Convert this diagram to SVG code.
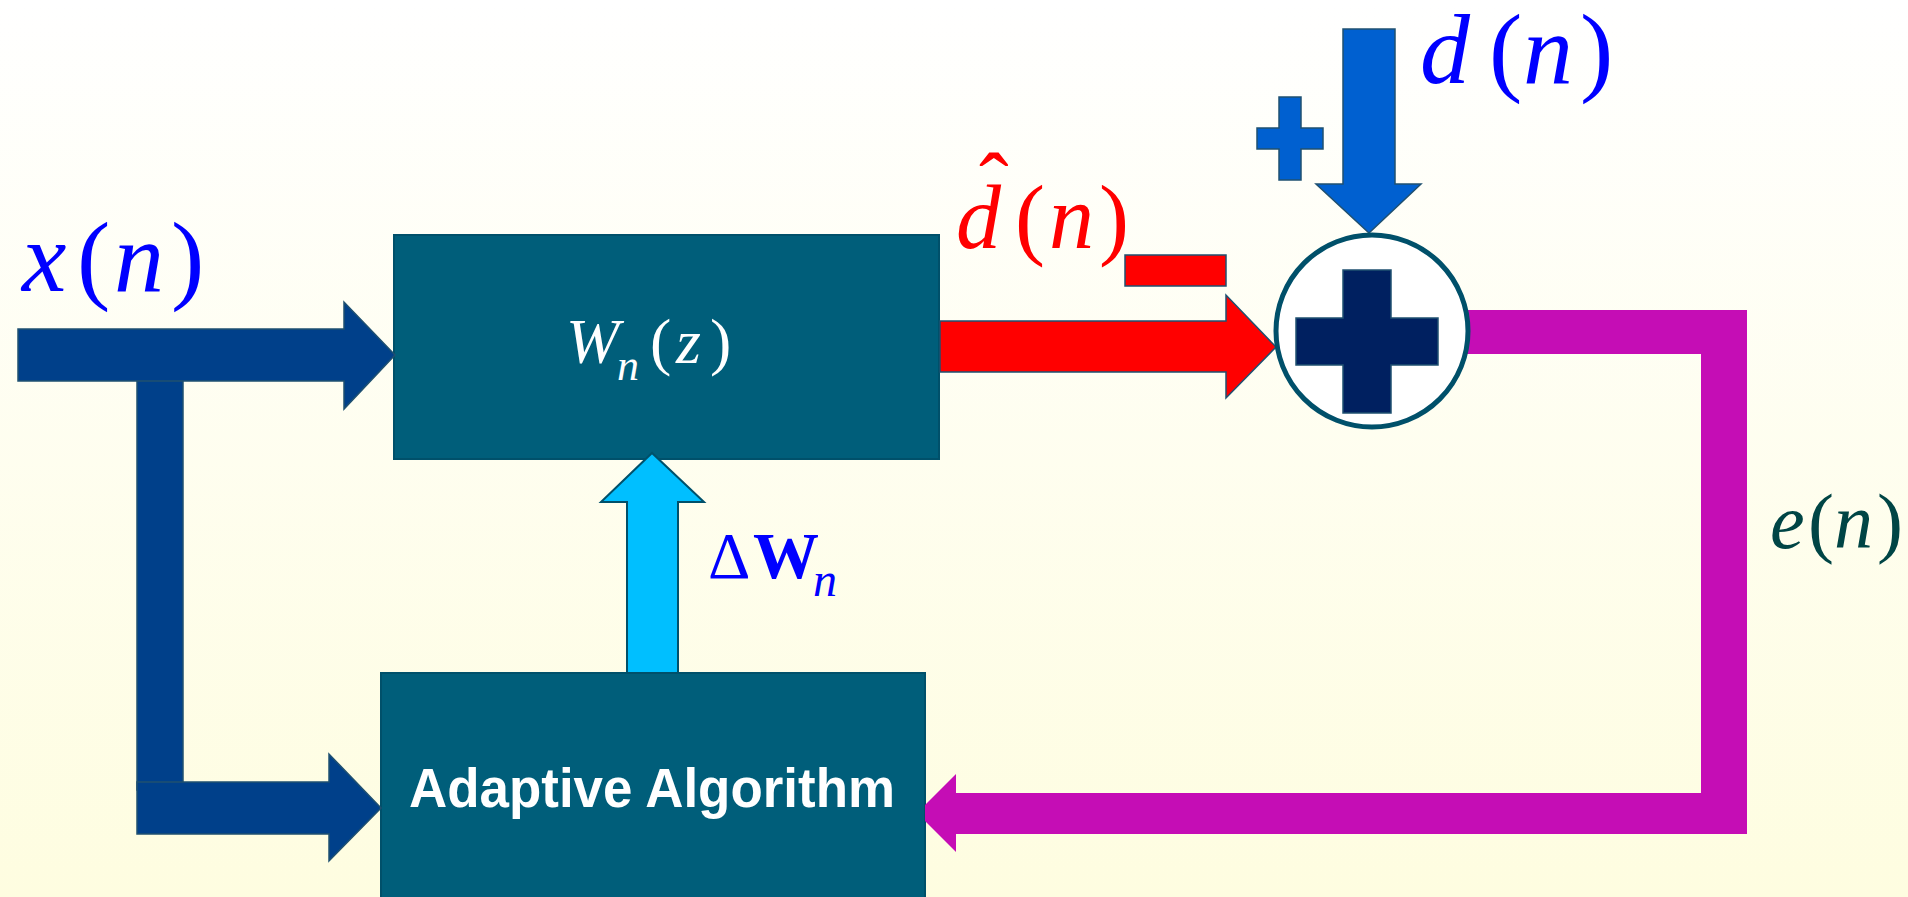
<svg xmlns="http://www.w3.org/2000/svg" width="1908" height="897" viewBox="0 0 1908 897">
  <defs>
    <linearGradient id="bg" x1="0" y1="0" x2="0" y2="1">
      <stop offset="0" stop-color="#FFFFFF"/>
      <stop offset="1" stop-color="#FEFDE0"/>
    </linearGradient>
    <style>
      .box { fill: #005E7A; stroke: #00506A; stroke-width: 2; }
      .xarrow { fill: #00408A; stroke: #1F5070; stroke-width: 1.5; }
      .red { fill: #FF0000; stroke: #1F5070; stroke-width: 1.5; }
      .blue { fill: #0060D0; stroke: #1F5070; stroke-width: 1.5; }
      .cyan { fill: #00BFFF; stroke: #00506A; stroke-width: 2; }
      .mag { fill: #C50DB5; }
      .serif { font-family: "Liberation Serif", "Times New Roman", serif; }
      .it { font-style: italic; }
      .sans { font-family: "Liberation Sans", Arial, sans-serif; font-weight: bold; }
    </style>
  </defs>

  <rect x="0" y="0" width="1908" height="897" fill="url(#bg)"/>

  <!-- boxes -->
  <g id="node-wnz">
    <rect class="box" x="394" y="235" width="545" height="224"/>
    <text class="serif" font-size="64" fill="#FFFFFF" y="363">
      <tspan class="it" x="566">W</tspan>
    </text>
    <text class="serif it" font-size="44" fill="#FFFFFF" x="617" y="380">n</text>
    <text class="serif" font-size="64" fill="#FFFFFF" y="363">
      <tspan x="650">(</tspan><tspan class="it" x="676">z</tspan><tspan x="710">)</tspan>
    </text>
  </g>

  <g id="node-adaptive">
    <rect class="box" x="381" y="673" width="544" height="240"/>
    <text class="sans" font-size="56" fill="#FFFFFF" x="652" y="807" text-anchor="middle" textLength="486" lengthAdjust="spacingAndGlyphs">Adaptive Algorithm</text>
  </g>

  <!-- connectors -->
  <g id="connectors">
    <!-- x(n) input with branch -->
    <rect class="xarrow" x="137" y="370" width="46" height="420"/>
    <polygon class="xarrow" points="18,329 344,329 344,302 395,355 344,409 344,381 18,381"/>
    <polygon class="xarrow" points="137,782 329,782 329,754 381,808 329,861 329,834 137,834"/>
    <!-- filter output d-hat -->
    <polygon class="red" points="940,321 1226,321 1226,295 1276,347 1226,398 1226,372 940,372"/>
    <!-- desired d(n) -->
    <polygon class="blue" points="1343,29 1395,29 1395,184 1421,184 1369,233 1316,184 1343,184"/>
    <!-- delta W update -->
    <polygon class="cyan" points="627,673 627,502 601,502 652,453 704,502 678,502 678,673"/>
    <!-- error feedback -->
    <polygon class="mag" points="1460,310 1747,310 1747,834 956,834 956,852 925,821 925,805 956,774 956,793 1701,793 1701,354 1460,354"/>
  </g>

  <!-- summing junction -->
  <g id="node-sum">
    <circle cx="1372" cy="331" r="96" fill="#FFFFFF" stroke="#00506A" stroke-width="5"/>
    <path d="M1343,270 H1391 V318 H1438 V365 H1391 V413 H1343 V365 H1296 V318 H1343 Z" fill="#002060" stroke="#1F5070" stroke-width="1.5"/>
  </g>

  <!-- sign marks -->
  <g id="sign-plus">
    <path d="M1279,97 H1301 V128 H1323 V149 H1301 V180 H1279 V149 H1257 V128 H1279 Z" class="blue"/>
  </g>
  <g id="sign-minus">
    <rect class="red" x="1125" y="255" width="101" height="31"/>
  </g>

  <!-- labels -->
  <g id="label-x">
    <text class="serif" font-size="100" fill="#0000FF" y="291">
      <tspan class="it" x="22">x</tspan><tspan x="77">(</tspan><tspan class="it" x="114">n</tspan><tspan x="171">)</tspan>
    </text>
  </g>
  <g id="label-d">
    <text class="serif" font-size="100" fill="#0000FF" y="83">
      <tspan class="it" x="1420">d</tspan><tspan x="1489">(</tspan><tspan class="it" x="1523">n</tspan><tspan x="1580">)</tspan>
    </text>
  </g>
  <g id="label-dhat">
    <text class="serif" font-size="90" fill="#FF0000" y="248">
      <tspan class="it" x="956">d</tspan><tspan x="1015">(</tspan><tspan class="it" x="1049">n</tspan><tspan x="1099">)</tspan>
    </text>
    <text class="serif" font-size="89" fill="#FF0000" x="979" y="215">ˆ</text>
  </g>
  <g id="label-dw">
    <text class="serif" font-size="66" fill="#0000FF" y="578">
      <tspan x="708">Δ</tspan><tspan font-weight="bold" x="753">W</tspan>
    </text>
    <text class="serif it" font-size="48" fill="#0000FF" x="813" y="596">n</text>
  </g>
  <g id="label-e">
    <text class="serif" font-size="78" fill="#004545" y="548">
      <tspan class="it" x="1770">e</tspan><tspan x="1808">(</tspan><tspan class="it" x="1834">n</tspan><tspan x="1877">)</tspan>
    </text>
  </g>
</svg>
